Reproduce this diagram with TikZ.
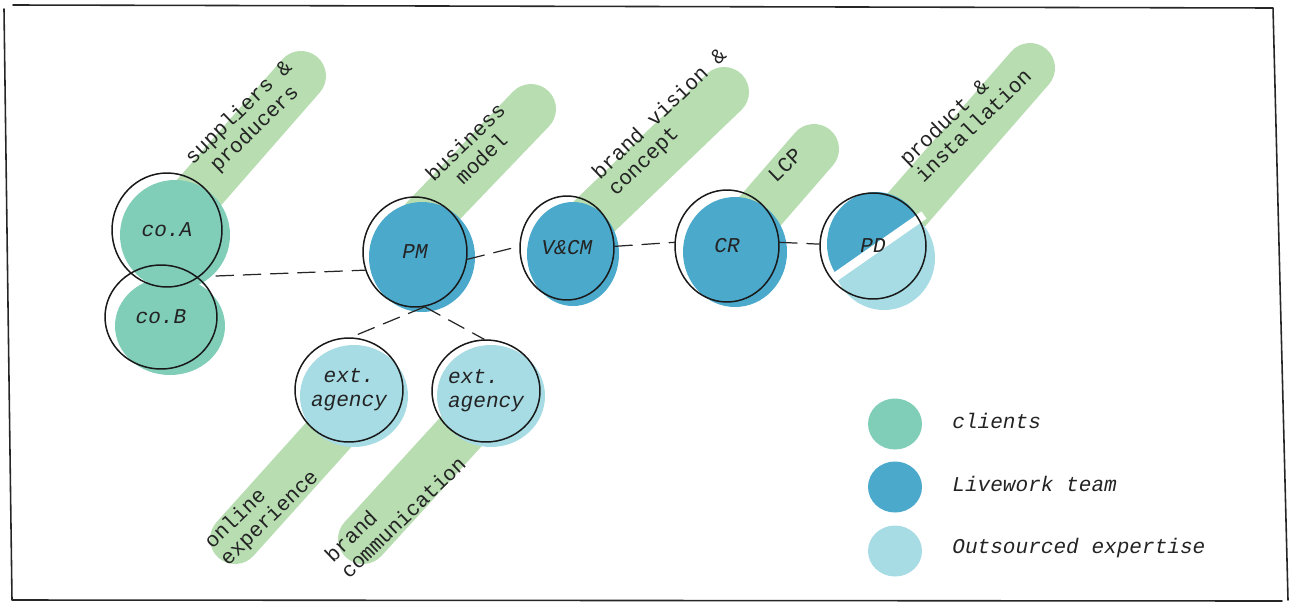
\documentclass[tikz,border=0pt]{standalone}
\usepackage{fontspec}
\setmonofont{Liberation Mono}
\usepackage{xcolor}
\usetikzlibrary{positioning,calc,shapes.geometric}

\definecolor{clientC}{RGB}{128,205,184}
\definecolor{teamC}{RGB}{75,169,204}
\definecolor{outC}{RGB}{167,220,229}
\definecolor{bandC}{RGB}{183,221,177}
\definecolor{inkC}{RGB}{35,35,35}

\begin{document}
\begin{tikzpicture}[x=0.02cm,y=-0.02cm, line cap=round,line join=round,
		band/.style={draw=bandC, line width=1cm, line cap=round},
		bandtext/.style={font=\ttfamily\fontsize{12}{13}\selectfont, text=inkC, rotate=44, inner sep=0pt},
		ring/.style={draw=black!90, line width=0.85pt, ellipse, inner sep=0pt,
			font=\ttfamily\itshape\fontsize{12}{13.5}\selectfont, text=inkC},
		link/.style={black!85, line width=0.7pt, dash pattern=on 10pt off 5.5pt},
		frame/.style={black!85, line width=0.9pt}]
	
	% ---- canvas (pixels of the reference)
	\useasboundingbox (0,0) rectangle (1297,602);
	
	% ---- green bands behind the circles
	\foreach \xa/\ya/\xb/\yb in {175/220/301/76, 415/230/531/109, 580/230/724/92,
		735/240/814/149, 880/240/1030/68, 360/400/235/539, 490/400/363/539}{
		\draw[band] (\xa,\ya) -- (\xb,\yb);
	}
	
	% band labels
	\node[bandtext, align=center] (tSup) at (247,121) {suppliers \&\\producers};
	\node[bandtext, align=center] (tBus) at (473,150) {business\\model};
	\node[bandtext, align=left]   (tBra) at (668,123) {brand vision \&\\concept};
	\node[bandtext]               (tLcp) at (785,165) {LCP};
	\node[bandtext, align=left]   (tPro) at (965,117) {product \&\\installation};
	\node[bandtext, align=left]   (tOnl) at (262,510) {online\\experience};
	\node[bandtext, align=left]   (tCom) at (395,509) {brand\\communication};
	
	% ---- coloured blobs (slightly off the pen rings)
	\fill[clientC] (175,235) ellipse [x radius=55, y radius=55];
	\fill[clientC] (170,326) ellipse [x radius=55, y radius=49];
	\fill[teamC]   (422,257) ellipse [x radius=53, y radius=55];
	\fill[teamC]   (573,254) ellipse [x radius=46, y radius=52];
	\fill[teamC]   (735,252) ellipse [x radius=52, y radius=55];
	\fill[outC]    (354,396) ellipse [x radius=54, y radius=51];
	\fill[outC]    (491,396) ellipse [x radius=54, y radius=51];
	
	% PD: split blob, team part on top
	\fill[outC] (884,258) ellipse [x radius=51, y radius=52];
	\begin{scope}
		\clip (820,285) -- (935,205) -- (935,180) -- (810,180) -- cycle;
		\fill[teamC] (876,244) ellipse [x radius=49, y radius=52];
	\end{scope}
	\draw[white, line width=5pt, line cap=butt] (828,282) -- (924,215);
	
	% ---- pen rings with labels
	\node[ring, minimum width=2.2cm, minimum height=2.28cm] (coA) at (167,230) {co.A};
	\node[ring, minimum width=2.24cm, minimum height=2.08cm] (coB) at (161,317) {co.B};
	\node[ring, minimum width=2.08cm, minimum height=2.2cm] (PM) at (415,252) {PM};
	\node[ring, minimum width=1.88cm, minimum height=2.08cm] (VCM) at (567,248) {V\&CM};
	\node[ring, minimum width=2.08cm, minimum height=2.24cm] (CR) at (727,246) {CR};
	\node[ring, minimum width=2.12cm, minimum height=2.12cm] (PD) at (873,246) {PD};
	\node[ring, minimum width=2.16cm, minimum height=2.08cm, align=center] (extA) at (349,390) {ext.\\agency};
	\node[ring, minimum width=2.16cm, minimum height=2.04cm, align=left] (extB) at (486,391) {ext.\\agency};
	
	% ---- dashed links
	\coordinate (coJ) at (216,276);
	\draw[link] (coJ) -- (PM.200);
	\draw[link] (PM.-8) -- (VCM.178);
	\draw[link] (VCM.2) -- (CR.176);
	\draw[link] (CR.4) -- (PD.178);
	\draw[link] (PM.-80) -- (extA.88);
	\draw[link] (PM.-80) -- (extB.92);
	
	% ---- legend
	\foreach \yy/\cc/\txt in {424/clientC/clients, 487/teamC/Livework team, 551/outC/Outsourced expertise}{
		\fill[\cc] (895,\yy) ellipse [x radius=27, y radius=25.5];
		\node[anchor=west, inner sep=0pt, text=inkC, font=\ttfamily\itshape\fontsize{12}{13.5}\selectfont]
		at (952,\yy-3) {\txt};
	}
	
	% ---- sketchy frame
	\draw[frame] (13,5) -- (1273,8) -- (1288,600);
	\draw[frame] (4,9) -- (12,600) -- (1282,601);
	
\end{tikzpicture}
\end{document}
